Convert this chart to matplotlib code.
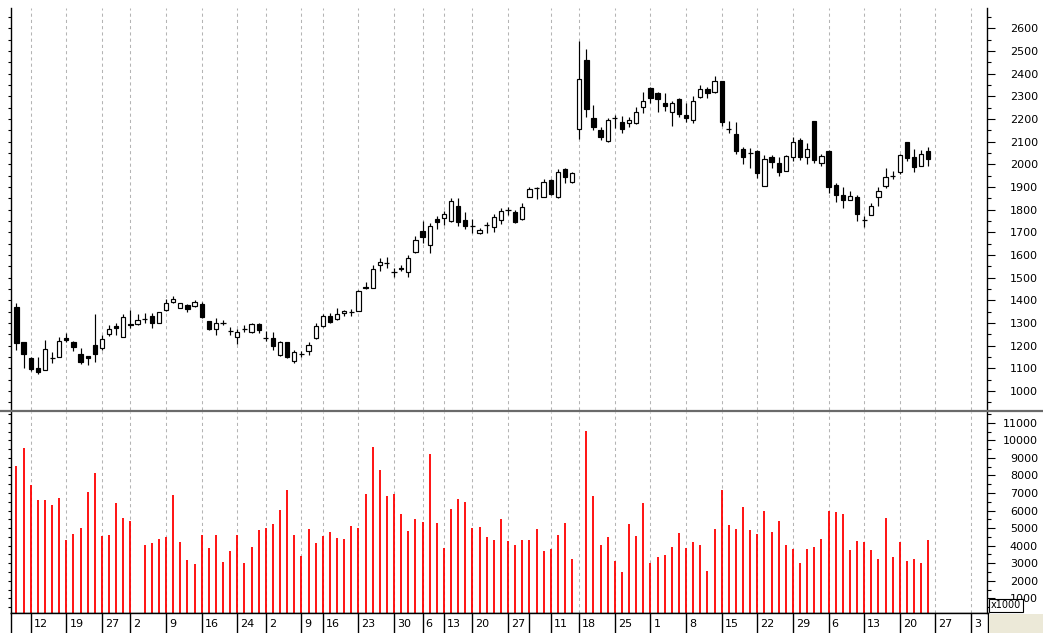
import matplotlib
matplotlib.use("Agg")
import matplotlib.pyplot as plt
from matplotlib.ticker import MultipleLocator, FixedLocator
from matplotlib.patches import Rectangle
from matplotlib.lines import Line2D
import numpy as np

# ---------------- data ----------------
opens = [1371, 1214, 1144, 1100, 1092, 1146, 1151, 1232, 1217, 1163,
         1154, 1202, 1188, 1249, 1288, 1239, 1294, 1294, 1317, 1332,
         1301, 1357, 1392, 1367, 1379, 1374, 1383, 1307, 1273, 1298,
         1264, 1236, 1272, 1261, 1294, 1232, 1232, 1158, 1214, 1132,
         1163, 1177, 1232, 1286, 1330, 1316, 1342, 1347, 1354, 1460,
         1455, 1555, 1566, 1526, 1543, 1526, 1611, 1705, 1644, 1757,
         1761, 1751, 1817, 1754, 1728, 1698, 1732, 1722, 1754, 1798,
         1791, 1757, 1857, 1894, 1857, 1931, 1854, 1978, 1923, 2154,
         2460, 2206, 2151, 2104, 2203, 2185, 2181, 2183, 2254, 2338,
         2313, 2272, 2229, 2287, 2217, 2195, 2298, 2331, 2317, 2369,
         2156, 2132, 2066, 2051, 2058, 1904, 2034, 2007, 1970, 2031,
         2106, 2033, 2191, 2004, 2058, 1908, 1864, 1842, 1857, 1754,
         1776, 1857, 1906, 1950, 1964, 2097, 2031, 1994, 2057]
highs = [1389, 1214, 1151, 1148, 1224, 1173, 1236, 1254, 1220, 1188,
         1154, 1338, 1247, 1291, 1298, 1338, 1357, 1338, 1342, 1342,
         1350, 1404, 1420, 1389, 1383, 1401, 1394, 1310, 1320, 1313,
         1283, 1272, 1291, 1301, 1298, 1266, 1258, 1220, 1217, 1180,
         1176, 1217, 1298, 1338, 1342, 1367, 1357, 1361, 1445, 1482,
         1556, 1585, 1589, 1544, 1555, 1600, 1683, 1750, 1739, 1772,
         1794, 1850, 1850, 1791, 1758, 1717, 1747, 1781, 1809, 1813,
         1798, 1828, 1901, 1901, 1934, 1934, 1979, 1982, 1967, 2544,
         2509, 2260, 2166, 2203, 2217, 2213, 2207, 2254, 2317, 2342,
         2320, 2316, 2281, 2291, 2269, 2301, 2350, 2339, 2389, 2369,
         2191, 2185, 2078, 2070, 2063, 2041, 2041, 2031, 2041, 2122,
         2117, 2092, 2191, 2044, 2063, 1919, 1898, 1884, 1864, 1772,
         1831, 1898, 1982, 1970, 2045, 2100, 2066, 2063, 2075]
lows = [1180, 1099, 1089, 1073, 1092, 1121, 1148, 1217, 1176, 1117,
        1113, 1129, 1180, 1242, 1247, 1239, 1276, 1291, 1298, 1276,
        1298, 1354, 1386, 1364, 1349, 1371, 1320, 1269, 1246, 1291,
        1246, 1205, 1261, 1254, 1254, 1222, 1180, 1154, 1146, 1121,
        1148, 1158, 1227, 1283, 1301, 1313, 1332, 1331, 1352, 1448,
        1452, 1530, 1544, 1504, 1529, 1504, 1607, 1651, 1610, 1713,
        1732, 1744, 1728, 1713, 1698, 1692, 1698, 1703, 1736, 1776,
        1739, 1754, 1854, 1845, 1854, 1864, 1850, 1916, 1919, 2110,
        2207, 2151, 2107, 2100, 2162, 2139, 2166, 2178, 2225, 2269,
        2232, 2236, 2169, 2207, 2188, 2184, 2291, 2291, 2313, 2170,
        2139, 2044, 1999, 1985, 1938, 1904, 1982, 1950, 1970, 2014,
        2019, 1999, 2004, 1992, 1872, 1835, 1806, 1842, 1751, 1725,
        1776, 1817, 1894, 1935, 1957, 2016, 1967, 1992, 1992]
closes = [1210, 1163, 1095, 1084, 1183, 1146, 1222, 1224, 1195, 1126,
          1144, 1163, 1227, 1274, 1279, 1328, 1291, 1313, 1317, 1298,
          1347, 1389, 1405, 1386, 1360, 1393, 1325, 1273, 1298, 1298,
          1264, 1258, 1272, 1294, 1269, 1232, 1199, 1217, 1151, 1173,
          1163, 1202, 1286, 1332, 1305, 1338, 1352, 1347, 1441, 1455,
          1536, 1570, 1566, 1526, 1538, 1585, 1666, 1680, 1728, 1747,
          1779, 1838, 1744, 1729, 1728, 1710, 1732, 1769, 1795, 1798,
          1747, 1813, 1891, 1894, 1923, 1869, 1967, 1942, 1960, 2375,
          2244, 2163, 2122, 2195, 2203, 2154, 2195, 2229, 2279, 2294,
          2288, 2257, 2272, 2222, 2203, 2281, 2331, 2313, 2369, 2188,
          2156, 2060, 2034, 2051, 1960, 2023, 2011, 1964, 2036, 2097,
          2033, 2066, 2019, 2036, 1901, 1864, 1842, 1860, 1781, 1754,
          1817, 1882, 1942, 1950, 2041, 2029, 1986, 2045, 2025]
volumes = [8540, 9570, 7440, 6600, 6600, 6300, 6740, 4310, 4690, 5010,
           7060, 8140, 4570, 4610, 6410, 5580, 5390, 0, 4040, 4170,
           4360, 4500, 6870, 4230, 3210, 2940, 4610, 3850, 4610, 3070,
           3720, 4610, 3020, 3930, 4880, 5010, 5260, 6040, 7170, 4610,
           3430, 4930, 4170, 4570, 4800, 4420, 4360, 5140, 5010, 6930,
           9620, 8290, 6810, 6930, 5790, 4820, 5520, 5350, 9240, 5280,
           3870, 6110, 6680, 6490, 5010, 5070, 4500, 4310, 5520, 4250,
           4040, 4310, 4310, 4950, 3720, 3810, 4610, 5280, 3230, 0,
           10530, 6810, 4040, 4500, 3150, 2500, 5260, 4550, 6410, 3040,
           3360, 3450, 3930, 4740, 3880, 4180, 4040, 2560, 4950, 7170,
           5200, 4950, 6220, 4900, 4690, 5980, 4760, 5410, 4040, 3810,
           3020, 3800, 3930, 4380, 5980, 5900, 5830, 3740, 4250, 4190,
           3740, 3230, 5580, 3360, 4190, 3150, 3230, 3020, 4310]
week_slots = [2, 7, 12, 16, 21, 26, 31, 35, 40, 43, 48, 53, 57, 60, 64,
              69, 72, 75, 79, 84, 89, 94, 99, 104, 109, 114, 119, 124, 129, 134]
week_labels = ["12", "19", "27", "2", "9", "16", "24", "2", "9", "16", "23",
               "30", "6", "13", "20", "27", "", "11", "18", "25", "1", "8",
               "15", "22", "29", "6", "13", "20", "27", "3"]
price_ticks = list(range(1000, 2700, 100))
volume_ticks = list(range(1000, 12000, 1000))

# ---------------- layout ----------------
W, H = 1043, 633
fig = plt.figure(figsize=(W / 100, H / 100), dpi=100)
fig.patch.set_facecolor("white")
plt.rcParams["font.family"] = ["DejaVu Sans"]

PX0, PXS = 16.45, 7.124


def slot_of(px):
    return (px - PX0) / PXS


def pt(px):
    return px * 0.72


xlim = (slot_of(11), slot_of(987))
price_lim = (915.6, 2689.6)
vol_lim = (165, 11612)
grid_slots = [s for s, lab in zip(week_slots, week_labels) if lab]

ax_p = fig.add_axes([11 / W, 1 - 410 / H, 976 / W, 402 / H])
ax_v = fig.add_axes([11 / W, 1 - 613 / H, 976 / W, 201 / H], sharex=ax_p)
ax_d = fig.add_axes([11 / W, 0, 977 / W, 20 / H])

o = np.array(opens, float)
h = np.array(highs, float)
l = np.array(lows, float)
c = np.array(closes, float)
v = np.array(volumes, float)
x = np.arange(len(o))

up = c > o
dn = c < o
fl = c == o

# price candles
ax_p.vlines(x, l, h, color="black", lw=0.85, zorder=2)
ax_p.bar(x[up], (c - o)[up], bottom=o[up], width=0.6, facecolor="white",
         edgecolor="black", linewidth=0.85, zorder=3)
ax_p.bar(x[dn], (o - c)[dn], bottom=c[dn], width=0.6, facecolor="black",
         edgecolor="black", linewidth=0.85, zorder=3)
ax_p.hlines(o[fl], x[fl] - 0.36, x[fl] + 0.36, color="black", lw=0.9, zorder=3)

ax_p.set_xlim(*xlim)
ax_p.set_ylim(*price_lim)

# volume bars
ax_v.vlines(x, 0, v, color="#ff0000", lw=1.3, zorder=2)
ax_v.set_ylim(*vol_lim)

grid_style = dict(color="#b4b4b4", linestyle=(0, (3, 3)), linewidth=0.75)
for ax in (ax_p, ax_v):
    ax.set_xticks(grid_slots)
    ax.tick_params(axis="x", which="both", bottom=False, top=False,
                   labelbottom=False)
    ax.grid(axis="x", **grid_style)
    ax.set_axisbelow(True)
    ax.set_facecolor("white")
    for s in ax.spines.values():
        s.set_color("black")
        s.set_linewidth(1.0)
    ax.spines["top"].set_visible(False)
    ax.spines["right"].set_visible(False)

ax_p.spines["bottom"].set_visible(False)

# left minor ticks
ax_p.yaxis.set_major_locator(MultipleLocator(50))
ax_v.yaxis.set_major_locator(MultipleLocator(500))
for ax in (ax_p, ax_v):
    ax.tick_params(axis="y", which="both", left=True, right=False,
                   labelleft=False, direction="out", length=pt(3), width=0.8)

# right axes with labels
for ax, ticks, lim in ((ax_p, price_ticks, price_lim),
                       (ax_v, volume_ticks, vol_lim)):
    axr = ax.twinx()
    axr.set_ylim(*lim)
    axr.set_yticks(ticks)
    axr.set_yticklabels([str(t) for t in ticks], ha="right", fontsize=8)
    axr.yaxis.set_minor_locator(MultipleLocator(ticks[1] - ticks[0]) if False
                                else MultipleLocator((ticks[1] - ticks[0]) / 2))
    axr.tick_params(axis="y", which="major", direction="out", length=pt(8),
                    width=0.8, pad=pt(43), colors="black")
    axr.tick_params(axis="y", which="minor", direction="out", length=pt(4),
                    width=0.8)
    for name, s in axr.spines.items():
        s.set_visible(name == "right")
        s.set_color("black")
        s.set_linewidth(1.0)
    axr.tick_params(axis="x", bottom=False, labelbottom=False)

# date row
ax_d.set_xlim(slot_of(11), slot_of(988))
ax_d.set_ylim(0, 1)
ax_d.set_xticks([])
ax_d.set_yticks([])
for name, s in ax_d.spines.items():
    s.set_visible(name in ("left", "top", "right"))
    s.set_color("black")
    s.set_linewidth(1.0)
for s, lab in zip(week_slots, week_labels):
    ax_d.axvline(s, color="black", lw=1.0)
    ax_d.annotate(lab, (s, 0.45), xytext=(2.2, 0), textcoords="offset points",
                  ha="left", va="center", fontsize=8)

# bottom-right grey corner
fig.patches.append(Rectangle((988.5 / W, 0), (W - 988.5) / W, 19.5 / H,
                             transform=fig.transFigure, facecolor="#ECE9D8",
                             edgecolor="none", zorder=1))

# divider between panels
fig.add_artist(Line2D([0, 1], [1 - 411 / H, 1 - 411 / H],
                      transform=fig.transFigure, color="#6a6a6a", lw=1.6))

# volume multiplier box
fig.text(991 / W, 1 - 605.5 / H, "x1000", fontsize=7, ha="left", va="center",
         bbox=dict(boxstyle="square,pad=0.18", facecolor="white",
                   edgecolor="black", linewidth=0.8), zorder=10)

fig.savefig("out.png", dpi=100, facecolor="white")
